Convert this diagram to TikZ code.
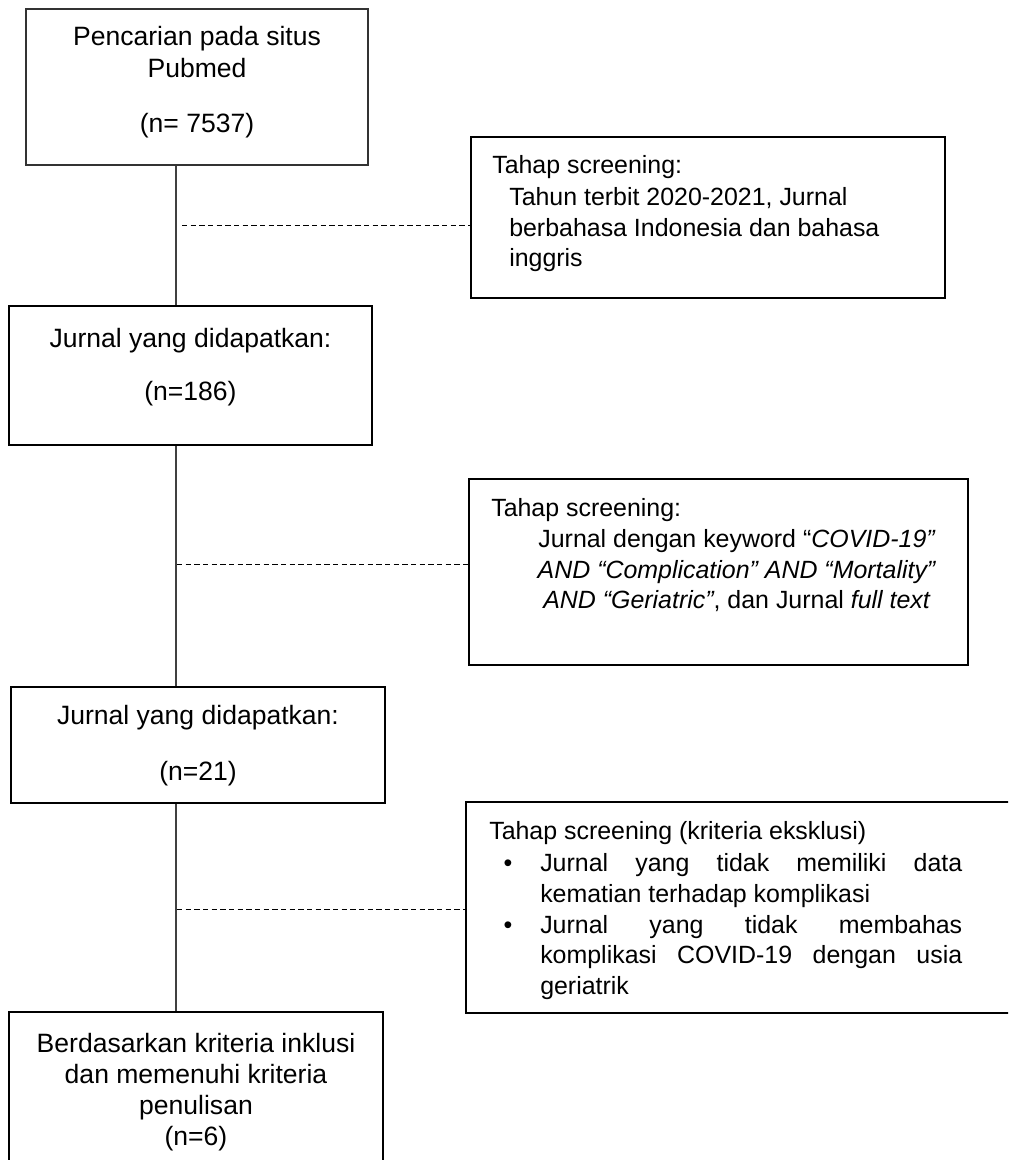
\documentclass[tikz,border=0pt]{standalone}
\usepackage{fontspec}
\setmainfont{Liberation Sans}
\newcommand{\fsL}{\fontsize{19.9pt}{24pt}\selectfont}
\newcommand{\fsR}{\fontsize{18.7pt}{23pt}\selectfont}
\newlength{\jw}
\setlength{\jw}{316.5pt}
\tikzset{
  boxthin/.style={draw=black!80, line width=1pt, rectangle, inner sep=0pt},
  boxthick/.style={draw=black, line width=1.5pt, rectangle, inner sep=0pt},
  ltxt/.style={inner sep=0pt, font=\fsL, anchor=base},
  rtxt/.style={inner sep=0pt, font=\fsR, anchor=base west},
  ctxt/.style={inner sep=0pt, font=\fsR, anchor=base},
  vline/.style={draw=black!75, line width=0.8pt},
  dline/.style={draw=black, line width=0.7pt, dash pattern=on 4pt off 2.5pt}
}
\begin{document}
\begin{tikzpicture}[x=0.75pt, y=-0.75pt]
\useasboundingbox (0,0) rectangle (1008,1160);
\clip (0,0) rectangle (1008,1160);
\fill[white] (0,0) rectangle (1008,1160);

% boxes
\node[boxthin,  minimum width=256.5pt, minimum height=117pt]    (B1) at (197,87) {};
\node[boxthick, minimum width=355.5pt, minimum height=120.75pt] (R1) at (708,217.5) {};
\node[boxthick, minimum width=272.25pt, minimum height=104.25pt] (B2) at (190.5,375.5) {};
\node[boxthick, minimum width=374.25pt, minimum height=139.5pt] (R2) at (718.5,572) {};
\node[boxthick, minimum width=280.5pt, minimum height=87pt]     (B3) at (198,745) {};
\node[boxthick, minimum width=423pt, minimum height=158.25pt]   (R3) at (748,907.5) {};
\node[boxthick, minimum width=280.5pt, minimum height=126pt]    (B4) at (196,1096) {};

% texts
\node[ltxt] (t11) at (197,45)  {Pencarian pada situs};
\node[ltxt] (t12) at (197,77)  {Pubmed};
\node[ltxt] (t13) at (197,132) {(n= 7537)};

\node[rtxt] (r11) at (492,173) {Tahap screening:};
\node[rtxt] (r12) at (509,205) {Tahun terbit 2020-2021, Jurnal};
\node[rtxt] (r13) at (509,236) {berbahasa Indonesia dan bahasa};
\node[rtxt] (r14) at (509,266) {inggris};

\node[ltxt] (t21) at (190.5,347) {Jurnal yang didapatkan:};
\node[ltxt] (t22) at (190.5,400) {(n=186)};

\node[rtxt] (r21) at (491,516) {Tahap screening:};
\node[ctxt] (r22) at (737,547) {Jurnal dengan keyword “\textit{COVID-19”}};
\node[ctxt] (r23) at (737,578) {\textit{AND “Complication” AND “Mortality”}};
\node[ctxt] (r24) at (737,608) {\textit{AND “Geriatric”}, dan Jurnal \textit{full text}};

\node[ltxt] (t31) at (198,724) {Jurnal yang didapatkan:};
\node[ltxt] (t32) at (198,780) {(n=21)};

\node[rtxt] (r31) at (489,839) {Tahap screening (kriteria eksklusi)};
\node[ctxt] (b1)  at (508,871) {•};
\node[rtxt] (r32) at (540,871) {\hbox to\jw{Jurnal\hfill yang\hfill tidak\hfill memiliki\hfill data}};
\node[rtxt] (r33) at (540,902) {kematian terhadap komplikasi};
\node[ctxt] (b2)  at (508,933) {•};
\node[rtxt] (r34) at (540,933) {\hbox to\jw{Jurnal\hfill yang\hfill tidak\hfill membahas}};
\node[rtxt] (r35) at (540,963) {\hbox to\jw{komplikasi\hfill COVID-19\hfill dengan\hfill usia}};
\node[rtxt] (r36) at (540,994) {geriatrik};

\node[ltxt] (t41) at (196,1052) {Berdasarkan kriteria inklusi};
\node[ltxt] (t42) at (196,1083) {dan memenuhi kriteria};
\node[ltxt] (t43) at (196,1114) {penulisan};
\node[ltxt] (t44) at (196,1145) {(n=6)};

% connectors
\coordinate (vx) at (176,0);
\draw[vline] (B1.south -| vx) -- (B2.north -| vx);
\draw[vline] (B2.south -| vx) -- (B3.north -| vx);
\draw[vline] (B3.south -| vx) -- (B4.north -| vx);

\coordinate (d1) at (182,225);
\coordinate (d2) at (177,564);
\coordinate (d3) at (177,909);
\draw[dline] (d1) -- (d1 -| R1.west);
\draw[dline] (d2) -- (d2 -| R2.west);
\draw[dline] (d3) -- (d3 -| R3.west);
\end{tikzpicture}
\end{document}
